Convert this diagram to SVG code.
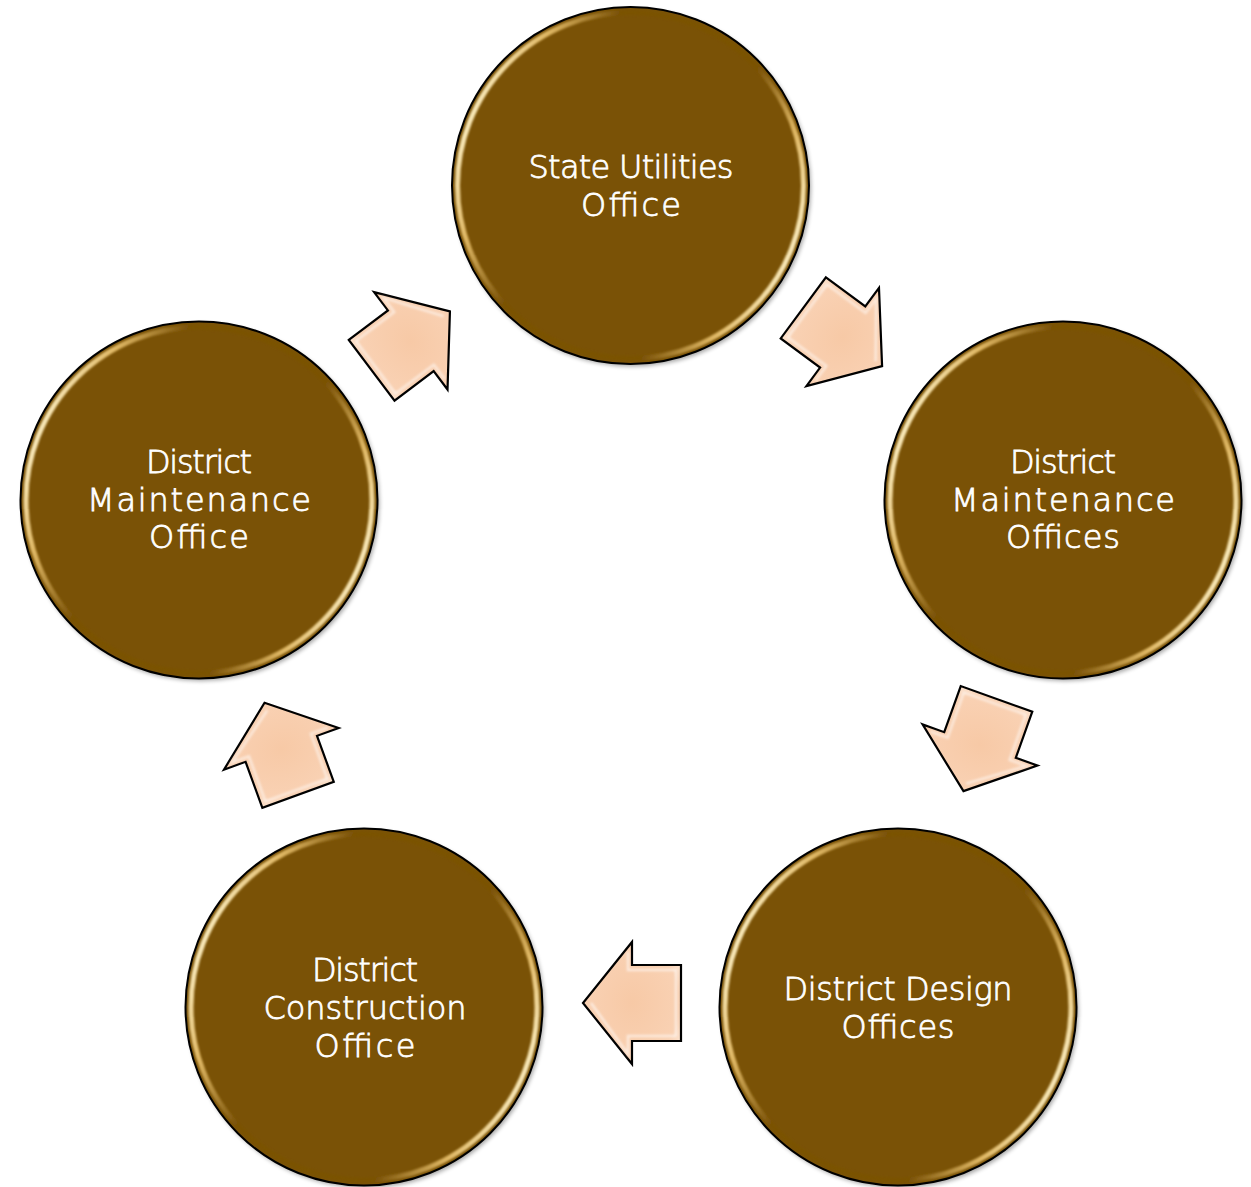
<svg xmlns="http://www.w3.org/2000/svg" xmlns:xlink="http://www.w3.org/1999/xlink" width="1251" height="1187" viewBox="0 0 1251 1187">
<style>
.disc{fill:#7a5206;stroke:#000;stroke-width:2}
.rim{fill:none;stroke:url(#rimGrad);stroke-width:5;filter:url(#soft)}
.shadow{fill:#000;opacity:0.35;filter:url(#shadowBlur)}
.lbl{font-family:"DejaVu Sans","Liberation Sans",sans-serif;font-weight:200;font-size:32px;fill:#fff;stroke:#fff;stroke-width:0.8px;text-anchor:middle}
.arrow{fill:url(#arrowGrad);stroke:#000;stroke-width:2.2;stroke-linejoin:miter}
.bevel{fill:none;stroke:#fff;stroke-opacity:0.55;stroke-width:2.5;filter:url(#soft)}
</style>
<defs>
<linearGradient id="rimGrad" x1="0" y1="0.3" x2="1" y2="0.7">
<stop offset="0" stop-color="#fff6d0"/>
<stop offset="0.14" stop-color="#e0b865"/>
<stop offset="0.3" stop-color="#7a5206"/>
<stop offset="0.7" stop-color="#7a5206"/>
<stop offset="0.86" stop-color="#e0b865"/>
<stop offset="1" stop-color="#fff6d0"/>
</linearGradient>
<radialGradient id="arrowGrad" cx="0.5" cy="0.5" r="0.6">
<stop offset="0" stop-color="#f7c9a6"/>
<stop offset="0.8" stop-color="#f9d1b3"/>
<stop offset="1" stop-color="#fde6d3"/>
</radialGradient>
<filter id="soft" x="-10%" y="-10%" width="120%" height="120%"><feGaussianBlur stdDeviation="0.8"/></filter>
<filter id="shadowBlur" x="-10%" y="-10%" width="120%" height="120%"><feGaussianBlur stdDeviation="2"/></filter>
<g id="arrowShape">
<polygon class="arrow" points="-49,-38 0,-38 0,-61 49,0 0,61 0,38 -49,38"/>
<polyline class="bevel" points="-44,-33 4,-33 4,-51 41,0"/>
<polyline class="bevel" points="4,51 4,33 -44,33 -44,-33"/>
</g>
</defs>

<g id="connectors">
<use xlink:href="#arrowShape" transform="translate(842.7,337) rotate(36.5)"/>
<use xlink:href="#arrowShape" transform="translate(980,745) rotate(109.7)"/>
<use xlink:href="#arrowShape" transform="translate(632,1003) rotate(180)"/>
<use xlink:href="#arrowShape" transform="translate(281.3,748.8) rotate(250)"/>
<use xlink:href="#arrowShape" transform="translate(410.8,340.8) rotate(-37)"/>
</g>

<g id="node-state-utilities">
<circle class="shadow" cx="632.5" cy="188" r="178.5"/>
<circle class="disc" cx="630.5" cy="185.5" r="178.5"/>
<circle class="rim" cx="630.5" cy="185.5" r="173"/>
<text class="lbl" x="631" y="178" textLength="205" lengthAdjust="spacing">State Utilities</text>
<text class="lbl" x="631" y="216" textLength="100" lengthAdjust="spacing">Office</text>
</g>

<g id="node-district-maintenance-offices">
<circle class="shadow" cx="1065" cy="502.5" r="178.5"/>
<circle class="disc" cx="1063" cy="500" r="178.5"/>
<circle class="rim" cx="1063" cy="500" r="173"/>
<text class="lbl" x="1063" y="473" textLength="106" lengthAdjust="spacing">District</text>
<text class="lbl" x="1063" y="510.5" textLength="224" lengthAdjust="spacing">Maintenance</text>
<text class="lbl" x="1063" y="548" textLength="114" lengthAdjust="spacing">Offices</text>
</g>

<g id="node-district-design-offices">
<circle class="shadow" cx="900" cy="1009.5" r="178.5"/>
<circle class="disc" cx="898" cy="1007" r="178.5"/>
<circle class="rim" cx="898" cy="1007" r="173"/>
<text class="lbl" x="898" y="1000" textLength="229" lengthAdjust="spacing">District Design</text>
<text class="lbl" x="898" y="1038" textLength="113" lengthAdjust="spacing">Offices</text>
</g>

<g id="node-district-construction-office">
<circle class="shadow" cx="366" cy="1009.5" r="178.5"/>
<circle class="disc" cx="364" cy="1007" r="178.5"/>
<circle class="rim" cx="364" cy="1007" r="173"/>
<text class="lbl" x="365" y="981" textLength="106" lengthAdjust="spacing">District</text>
<text class="lbl" x="365" y="1019" textLength="203" lengthAdjust="spacing">Construction</text>
<text class="lbl" x="365" y="1057" textLength="101" lengthAdjust="spacing">Office</text>
</g>

<g id="node-district-maintenance-office">
<circle class="shadow" cx="201" cy="502.5" r="178.5"/>
<circle class="disc" cx="199" cy="500" r="178.5"/>
<circle class="rim" cx="199" cy="500" r="173"/>
<text class="lbl" x="199" y="473" textLength="106" lengthAdjust="spacing">District</text>
<text class="lbl" x="199" y="510.5" textLength="224" lengthAdjust="spacing">Maintenance</text>
<text class="lbl" x="199" y="548" textLength="100" lengthAdjust="spacing">Office</text>
</g>
</svg>
